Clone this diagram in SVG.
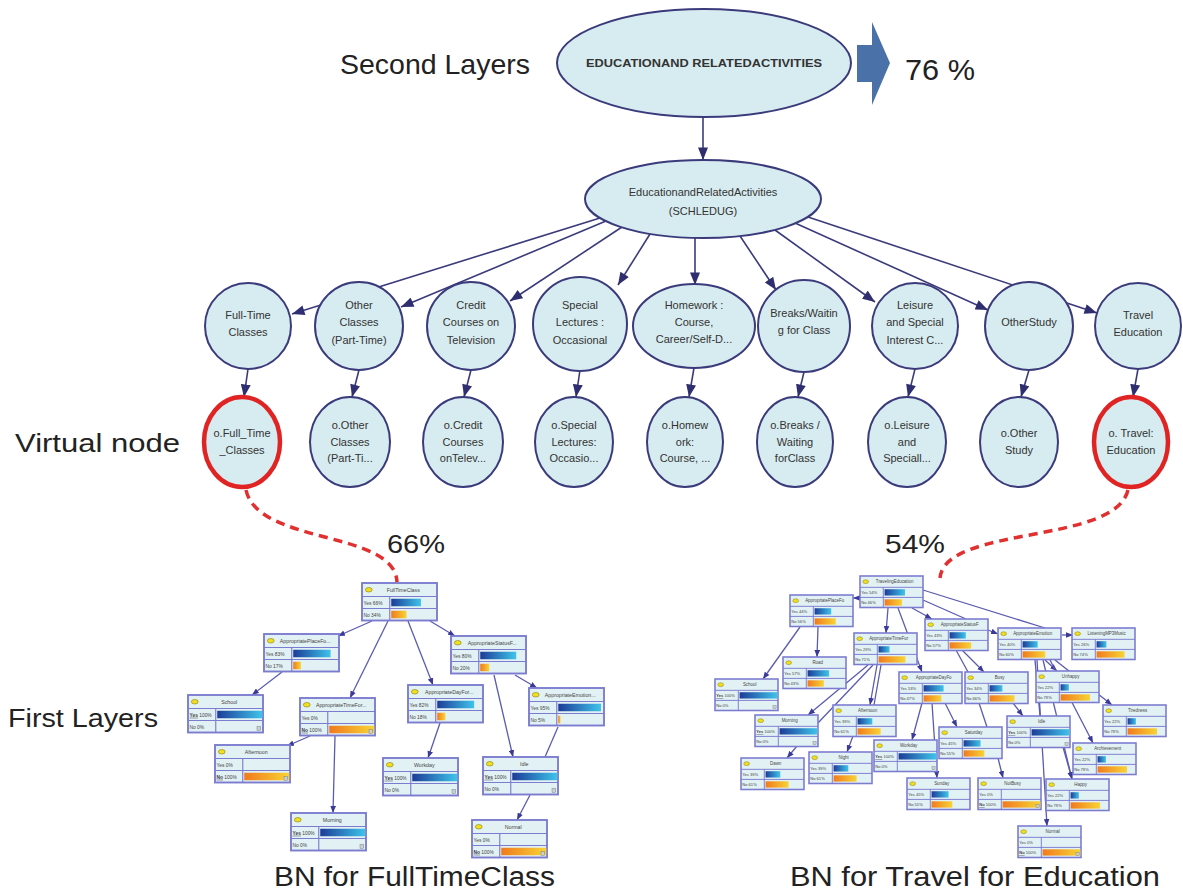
<svg xmlns="http://www.w3.org/2000/svg" width="1183" height="893" viewBox="0 0 1183 893">
<style>
.lbl{font-family:"Liberation Sans",Arial,sans-serif;fill:#222}
.nd{fill:#d7ecf0;stroke:#3b3b7c;stroke-width:2}
.vr{fill:#d7ecf0;stroke:#e02424;stroke-width:4.5}
.nt{font-family:"Liberation Sans",Arial,sans-serif;font-size:11px;fill:#333;text-anchor:middle}
.ce{stroke:#3b3b7c;stroke-width:1.6;fill:none;marker-end:url(#a)}
.be{stroke:#5b5bb0;stroke-width:1.3;fill:none}
.ba{marker-end:url(#s)}
.bx{fill:#e2f1f4;stroke:#7b7bd0;stroke-width:2.5}
.bl{stroke:#7b7bd0;stroke-width:1.5;fill:none}
.ic{fill:#f0e020;stroke:#8a7a10;stroke-width:.8}
.bt{font-family:"Liberation Sans",Arial,sans-serif;font-size:7px;fill:#444;text-anchor:middle}
.bs{font-family:"Liberation Sans",Arial,sans-serif;font-size:6.5px;fill:#444}
.yb{fill:url(#gy)}
.nb{fill:url(#gn)}
.ev{fill:#c8d0d8;stroke:#777;stroke-width:.6}
.rd{stroke:#e03030;stroke-width:3.5;stroke-dasharray:9 6;fill:none}
</style>
<defs>
<marker id="a" viewBox="0 0 10 8" refX="10" refY="4" markerWidth="13" markerHeight="10" orient="auto" markerUnits="userSpaceOnUse"><path d="M0 0L10 4L0 8z" fill="#2e2e70"/></marker>
<marker id="s" viewBox="0 0 10 8" refX="10" refY="4" markerWidth="7" markerHeight="6" orient="auto" markerUnits="userSpaceOnUse"><path d="M0 0L10 4L0 8z" fill="#3a3a98"/></marker>
<linearGradient id="gy" x1="0" y1="0" x2="1" y2="0"><stop offset="0" stop-color="#1c3c98"/><stop offset="1" stop-color="#3ec4ea"/></linearGradient>
<linearGradient id="gn" x1="0" y1="0" x2="1" y2="0"><stop offset="0" stop-color="#f07a1e"/><stop offset="1" stop-color="#f8d434"/></linearGradient>
</defs>
<rect width="1183" height="893" fill="#fff"/>

<!-- labels -->
<text class="lbl" x="340" y="74" font-size="28" textLength="190" lengthAdjust="spacingAndGlyphs">Second Layers</text>
<text class="lbl" x="905" y="80" font-size="30" textLength="70" lengthAdjust="spacingAndGlyphs">76 %</text>
<text class="lbl" x="15" y="452" font-size="26" textLength="165" lengthAdjust="spacingAndGlyphs">Virtual node</text>
<text class="lbl" x="8" y="727" font-size="26" textLength="150" lengthAdjust="spacingAndGlyphs">First Layers</text>
<text class="lbl" x="387" y="553" font-size="26" textLength="58" lengthAdjust="spacingAndGlyphs">66%</text>
<text class="lbl" x="885" y="553" font-size="26" textLength="60" lengthAdjust="spacingAndGlyphs">54%</text>
<text class="lbl" x="274" y="886" font-size="27" textLength="281" lengthAdjust="spacingAndGlyphs">BN for FullTimeClass</text>
<text class="lbl" x="790" y="886" font-size="27" textLength="370" lengthAdjust="spacingAndGlyphs">BN for Travel for Education</text>

<!-- block arrow -->
<path d="M857 45H872V22L890 63L872 105V82H857z" fill="#4a72a8"/>

<!-- main connectors -->
<g id="connectors">
<path class="ce" d="M703 117V160"/>
<path class="ce" d="M600 218L292 314"/>
<path class="ce" d="M606 221L401 307"/>
<path class="ce" d="M622 227L510 301"/>
<path class="ce" d="M650 234L618 285"/>
<path class="ce" d="M695 238L695 285"/>
<path class="ce" d="M740 236L776 290"/>
<path class="ce" d="M775 230L875 302"/>
<path class="ce" d="M795 223L988 310"/>
<path class="ce" d="M808 217L1097 313"/>
<path class="ce" d="M248 369L244 397"/>
<path class="ce" d="M359 370L352 397"/>
<path class="ce" d="M471 370L464 397"/>
<path class="ce" d="M580 370L576 397"/>
<path class="ce" d="M694 368L689 397"/>
<path class="ce" d="M804 372L798 397"/>
<path class="ce" d="M915 369L908 397"/>
<path class="ce" d="M1029 370L1021 397"/>
<path class="ce" d="M1138 369L1133 397"/>
<path class="rd" d="M246 490C258 545 395 530 397 582"/>
<path class="rd" d="M1128 490C1115 545 945 525 940 578"/>
</g>

<!-- top nodes -->
<g id="n-top"><ellipse class="nd" cx="704" cy="63" rx="147" ry="54"/><text class="nt" x="704" y="67" font-size="10" font-weight="bold" fill="#2a2a2a" textLength="236" lengthAdjust="spacingAndGlyphs">EDUCATIONAND RELATEDACTIVITIES</text></g>
<g id="n-edu"><ellipse class="nd" cx="703" cy="199" rx="118" ry="39"/><text class="nt" x="703" y="196">EducationandRelatedActivities</text><text class="nt" x="703" y="215">(SCHLEDUG)</text></g>

<g id="n1"><circle class="nd" cx="248" cy="326" r="43"/><text class="nt" x="248" y="319">Full-Time</text><text class="nt" x="248" y="336">Classes</text></g>
<g id="n2"><circle class="nd" cx="359" cy="326" r="44"/><text class="nt" x="359" y="309">Other</text><text class="nt" x="359" y="326">Classes</text><text class="nt" x="359" y="344">(Part-Time)</text></g>
<g id="n3"><circle class="nd" cx="471" cy="326" r="44"/><text class="nt" x="471" y="309">Credit</text><text class="nt" x="471" y="326">Courses on</text><text class="nt" x="471" y="344">Television</text></g>
<g id="n4"><circle class="nd" cx="580" cy="324" r="47"/><text class="nt" x="580" y="309">Special</text><text class="nt" x="580" y="326">Lectures :</text><text class="nt" x="580" y="344">Occasional</text></g>
<g id="n5"><ellipse class="nd" cx="694" cy="326" rx="61" ry="42"/><text class="nt" x="694" y="309">Homework :</text><text class="nt" x="694" y="326">Course,</text><text class="nt" x="694" y="343">Career/Self-D...</text></g>
<g id="n6"><circle class="nd" cx="804" cy="326" r="46"/><text class="nt" x="804" y="317">Breaks/Waitin</text><text class="nt" x="804" y="334">g for Class</text></g>
<g id="n7"><circle class="nd" cx="915" cy="326" r="43"/><text class="nt" x="915" y="309">Leisure</text><text class="nt" x="915" y="326">and Special</text><text class="nt" x="915" y="344">Interest C...</text></g>
<g id="n8"><circle class="nd" cx="1029" cy="326" r="44"/><text class="nt" x="1029" y="326">OtherStudy</text></g>
<g id="n9"><circle class="nd" cx="1138" cy="326" r="43"/><text class="nt" x="1138" y="319">Travel</text><text class="nt" x="1138" y="336">Education</text></g>

<g id="v1"><ellipse class="vr" cx="242" cy="442" rx="38" ry="45"/><text class="nt" x="242" y="437">o.Full_Time</text><text class="nt" x="242" y="454">_Classes</text></g>
<g id="v2"><ellipse class="nd" cx="350" cy="442" rx="40" ry="45"/><text class="nt" x="350" y="429">o.Other</text><text class="nt" x="350" y="446">Classes</text><text class="nt" x="350" y="462">(Part-Ti...</text></g>
<g id="v3"><ellipse class="nd" cx="463" cy="442" rx="40" ry="45"/><text class="nt" x="463" y="429">o.Credit</text><text class="nt" x="463" y="446">Courses</text><text class="nt" x="463" y="462">onTelev...</text></g>
<g id="v4"><ellipse class="nd" cx="574" cy="442" rx="39" ry="45"/><text class="nt" x="574" y="429">o.Special</text><text class="nt" x="574" y="446">Lectures:</text><text class="nt" x="574" y="462">Occasio...</text></g>
<g id="v5"><ellipse class="nd" cx="685" cy="442" rx="38" ry="45"/><text class="nt" x="685" y="429">o.Homew</text><text class="nt" x="685" y="446">ork:</text><text class="nt" x="685" y="462">Course, ...</text></g>
<g id="v6"><ellipse class="nd" cx="795" cy="442" rx="38" ry="45"/><text class="nt" x="795" y="429">o.Breaks /</text><text class="nt" x="795" y="446">Waiting</text><text class="nt" x="795" y="462">forClass</text></g>
<g id="v7"><ellipse class="nd" cx="907" cy="442" rx="39" ry="45"/><text class="nt" x="907" y="429">o.Leisure</text><text class="nt" x="907" y="446">and</text><text class="nt" x="907" y="462">Speciall...</text></g>
<g id="v8"><ellipse class="nd" cx="1019" cy="442" rx="39" ry="45"/><text class="nt" x="1019" y="437">o.Other</text><text class="nt" x="1019" y="454">Study</text></g>
<g id="v9"><ellipse class="vr" cx="1131" cy="442" rx="37" ry="45"/><text class="nt" x="1131" y="437">o. Travel:</text><text class="nt" x="1131" y="454">Education</text></g>

<!-- BN edges -->
<g id="bn-edges">
<path class="be ba" d="M372 621L338 636"/>
<path class="be ba" d="M388 621L350 698"/>
<path class="be ba" d="M408 621L433 685"/>
<path class="be ba" d="M430 621L455 636"/>
<path class="be ba" d="M282 672L252 695"/>
<path class="be ba" d="M310 736L287 746"/>
<path class="be ba" d="M335 736L333 813"/>
<path class="be ba" d="M440 723L428 758"/>
<path class="be ba" d="M494 675L513 757"/>
<path class="be ba" d="M515 675L537 688"/>
<path class="be" d="M558 727L545 757"/>
<path class="be ba" d="M530 795L517 820"/>

<path class="be ba" d="M861 598L853 598"/>
<path class="be ba" d="M888 608L886 633"/>
<path class="be ba" d="M898 608L922 672"/>
<path class="be ba" d="M912 608L932 619"/>
<path class="be" d="M923 600L966 619"/>
<path class="be" d="M923 590L1045 628"/>
<path class="be ba" d="M988 630L998 634"/>
<path class="be ba" d="M1062 635L1073 635"/>
<path class="be ba" d="M818 627L817 657"/>
<path class="be ba" d="M800 627L763 679"/>
<path class="be ba" d="M868 665L808 715"/>
<path class="be" d="M873 665L817 724"/>
<path class="be ba" d="M877 665L870 705"/>
<path class="be" d="M881 665L874 705"/>
<path class="be ba" d="M797 746L787 758"/>
<path class="be ba" d="M853 736L847 752"/>
<path class="be ba" d="M922 703L912 740"/>
<path class="be ba" d="M932 703L937 778"/>
<path class="be ba" d="M945 703L957 727"/>
<path class="be" d="M979 703L987 727"/>
<path class="be ba" d="M1013 703L1023 716"/>
<path class="be ba" d="M962 650L984 672"/>
<path class="be" d="M956 650L968 672"/>
<path class="be ba" d="M1045 660L1057 671"/>
<path class="be" d="M1035 660L1040 716"/>
<path class="be ba" d="M1037 660L1047 826"/>
<path class="be ba" d="M1050 660L1093 743"/>
<path class="be ba" d="M1043 660L1072 779"/>
<path class="be ba" d="M1055 660L1112 705"/>
<path class="be ba" d="M1063 747L1072 779"/>
<path class="be ba" d="M998 758L1003 778"/>
</g>

<!-- left BN -->
<g id="l-ftc" transform="translate(362,583) scale(.75)"><rect class="bx" width="100" height="50"/><path class="bl" d="M0 18H100M0 34H100M37 18V50"/><ellipse class="ic" cx="9" cy="9" rx="4.5" ry="3"/><text class="bt" x="55" y="11.5">FullTimeClass</text><text class="bs" x="2" y="29">Yes 66%</text><text class="bs" x="2" y="45">No  34%</text><rect class="yb" x="39" y="21" width="39.6" height="10"/><rect class="nb" x="39" y="37" width="20.4" height="10"/></g>
<g id="l-apf" transform="translate(264,634) scale(.75)"><rect class="bx" width="100" height="50"/><path class="bl" d="M0 18H100M0 34H100M37 18V50"/><ellipse class="ic" cx="9" cy="9" rx="4.5" ry="3"/><text class="bt" x="55" y="11.5">AppropriatePlaceFo...</text><text class="bs" x="2" y="29">Yes 83%</text><text class="bs" x="2" y="45">No  17%</text><rect class="yb" x="39" y="21" width="49.8" height="10"/><rect class="nb" x="39" y="37" width="10.2" height="10"/></g>
<g id="l-sch" transform="translate(188,695) scale(.75)"><rect class="bx" width="100" height="50"/><path class="bl" d="M0 18H100M0 34H100M37 18V50"/><ellipse class="ic" cx="9" cy="9" rx="4.5" ry="3"/><text class="bt" x="55" y="11.5">School</text><text class="bs" x="2" y="29"><tspan font-weight="bold" text-decoration="underline">Yes</tspan> 100%</text><text class="bs" x="2" y="45">No     0%</text><rect class="yb" x="39" y="21" width="60" height="10"/><rect class="ev" x="92" y="42" width="5" height="5"/></g>
<g id="l-atf" transform="translate(300,698) scale(.75)"><rect class="bx" width="100" height="50"/><path class="bl" d="M0 18H100M0 34H100M37 18V50"/><ellipse class="ic" cx="9" cy="9" rx="4.5" ry="3"/><text class="bt" x="55" y="11.5">AppropriateTimeFor...</text><text class="bs" x="2" y="29">Yes    0%</text><text class="bs" x="2" y="45"><tspan font-weight="bold" text-decoration="underline">No</tspan>  100%</text><rect class="nb" x="39" y="37" width="60" height="10"/><rect class="ev" x="92" y="42" width="5" height="5"/></g>
<g id="l-asf" transform="translate(451,636) scale(.75)"><rect class="bx" width="100" height="50"/><path class="bl" d="M0 18H100M0 34H100M37 18V50"/><ellipse class="ic" cx="9" cy="9" rx="4.5" ry="3"/><text class="bt" x="55" y="11.5">AppropriateStatusF...</text><text class="bs" x="2" y="29">Yes 80%</text><text class="bs" x="2" y="45">No  20%</text><rect class="yb" x="39" y="21" width="48" height="10"/><rect class="nb" x="39" y="37" width="12" height="10"/></g>
<g id="l-adf" transform="translate(408,685) scale(.75)"><rect class="bx" width="100" height="50"/><path class="bl" d="M0 18H100M0 34H100M37 18V50"/><ellipse class="ic" cx="9" cy="9" rx="4.5" ry="3"/><text class="bt" x="55" y="11.5">AppropriateDayFor...</text><text class="bs" x="2" y="29">Yes 82%</text><text class="bs" x="2" y="45">No  18%</text><rect class="yb" x="39" y="21" width="49.2" height="10"/><rect class="nb" x="39" y="37" width="10.8" height="10"/></g>
<g id="l-aem" transform="translate(529,688) scale(.75)"><rect class="bx" width="100" height="50"/><path class="bl" d="M0 18H100M0 34H100M37 18V50"/><ellipse class="ic" cx="9" cy="9" rx="4.5" ry="3"/><text class="bt" x="55" y="11.5">AppropriateEmotion...</text><text class="bs" x="2" y="29">Yes 95%</text><text class="bs" x="2" y="45">No    5%</text><rect class="yb" x="39" y="21" width="57" height="10"/><rect class="nb" x="39" y="37" width="3" height="10"/></g>
<g id="l-aft" transform="translate(215,745) scale(.75)"><rect class="bx" width="100" height="50"/><path class="bl" d="M0 18H100M0 34H100M37 18V50"/><ellipse class="ic" cx="9" cy="9" rx="4.5" ry="3"/><text class="bt" x="55" y="11.5">Afternoon</text><text class="bs" x="2" y="29">Yes    0%</text><text class="bs" x="2" y="45"><tspan font-weight="bold" text-decoration="underline">No</tspan>  100%</text><rect class="nb" x="39" y="37" width="60" height="10"/><rect class="ev" x="92" y="42" width="5" height="5"/></g>
<g id="l-wd" transform="translate(383,758) scale(.75)"><rect class="bx" width="100" height="50"/><path class="bl" d="M0 18H100M0 34H100M37 18V50"/><ellipse class="ic" cx="9" cy="9" rx="4.5" ry="3"/><text class="bt" x="55" y="11.5">Workday</text><text class="bs" x="2" y="29"><tspan font-weight="bold" text-decoration="underline">Yes</tspan> 100%</text><text class="bs" x="2" y="45">No     0%</text><rect class="yb" x="39" y="21" width="60" height="10"/><rect class="ev" x="92" y="42" width="5" height="5"/></g>
<g id="l-idle" transform="translate(483,757) scale(.75)"><rect class="bx" width="100" height="50"/><path class="bl" d="M0 18H100M0 34H100M37 18V50"/><ellipse class="ic" cx="9" cy="9" rx="4.5" ry="3"/><text class="bt" x="55" y="11.5">Idle</text><text class="bs" x="2" y="29"><tspan font-weight="bold" text-decoration="underline">Yes</tspan> 100%</text><text class="bs" x="2" y="45">No     0%</text><rect class="yb" x="39" y="21" width="60" height="10"/><rect class="ev" x="92" y="42" width="5" height="5"/></g>
<g id="l-mor" transform="translate(291,813) scale(.75)"><rect class="bx" width="100" height="50"/><path class="bl" d="M0 18H100M0 34H100M37 18V50"/><ellipse class="ic" cx="9" cy="9" rx="4.5" ry="3"/><text class="bt" x="55" y="11.5">Morning</text><text class="bs" x="2" y="29"><tspan font-weight="bold" text-decoration="underline">Yes</tspan> 100%</text><text class="bs" x="2" y="45">No     0%</text><rect class="yb" x="39" y="21" width="60" height="10"/><rect class="ev" x="92" y="42" width="5" height="5"/></g>
<g id="l-nor" transform="translate(472,820) scale(.75)"><rect class="bx" width="100" height="50"/><path class="bl" d="M0 18H100M0 34H100M37 18V50"/><ellipse class="ic" cx="9" cy="9" rx="4.5" ry="3"/><text class="bt" x="55" y="11.5">Normal</text><text class="bs" x="2" y="29">Yes    0%</text><text class="bs" x="2" y="45"><tspan font-weight="bold" text-decoration="underline">No</tspan>  100%</text><rect class="nb" x="39" y="37" width="60" height="10"/><rect class="ev" x="92" y="42" width="5" height="5"/></g>

<!-- right BN -->
<g id="r-te" transform="translate(860,576) scale(.63)"><rect class="bx" width="100" height="50"/><path class="bl" d="M0 18H100M0 34H100M37 18V50"/><ellipse class="ic" cx="9" cy="9" rx="4.5" ry="3"/><text class="bt" x="55" y="11.5">TravelingEducation</text><text class="bs" x="2" y="29">Yes 54%</text><text class="bs" x="2" y="45">No  46%</text><rect class="yb" x="39" y="21" width="32.4" height="10"/><rect class="nb" x="39" y="37" width="27.6" height="10"/></g>
<g id="r-apf" transform="translate(790,595) scale(.63)"><rect class="bx" width="100" height="50"/><path class="bl" d="M0 18H100M0 34H100M37 18V50"/><ellipse class="ic" cx="9" cy="9" rx="4.5" ry="3"/><text class="bt" x="55" y="11.5">AppropriatePlaceFo</text><text class="bs" x="2" y="29">Yes 44%</text><text class="bs" x="2" y="45">No  56%</text><rect class="yb" x="39" y="21" width="26.4" height="10"/><rect class="nb" x="39" y="37" width="33.6" height="10"/></g>
<g id="r-atf" transform="translate(854,633) scale(.63)"><rect class="bx" width="100" height="50"/><path class="bl" d="M0 18H100M0 34H100M37 18V50"/><ellipse class="ic" cx="9" cy="9" rx="4.5" ry="3"/><text class="bt" x="55" y="11.5">AppropriateTimeFor</text><text class="bs" x="2" y="29">Yes 29%</text><text class="bs" x="2" y="45">No  71%</text><rect class="yb" x="39" y="21" width="17.4" height="10"/><rect class="nb" x="39" y="37" width="42.6" height="10"/></g>
<g id="r-road" transform="translate(783,657) scale(.63)"><rect class="bx" width="100" height="50"/><path class="bl" d="M0 18H100M0 34H100M37 18V50"/><ellipse class="ic" cx="9" cy="9" rx="4.5" ry="3"/><text class="bt" x="55" y="11.5">Road</text><text class="bs" x="2" y="29">Yes 57%</text><text class="bs" x="2" y="45">No  43%</text><rect class="yb" x="39" y="21" width="34.2" height="10"/><rect class="nb" x="39" y="37" width="25.8" height="10"/></g>
<g id="r-sch" transform="translate(715,679) scale(.63)"><rect class="bx" width="100" height="50"/><path class="bl" d="M0 18H100M0 34H100M37 18V50"/><ellipse class="ic" cx="9" cy="9" rx="4.5" ry="3"/><text class="bt" x="55" y="11.5">School</text><text class="bs" x="2" y="29"><tspan font-weight="bold" text-decoration="underline">Yes</tspan> 100%</text><text class="bs" x="2" y="45">No     0%</text><rect class="yb" x="39" y="21" width="60" height="10"/><rect class="ev" x="92" y="42" width="5" height="5"/></g>
<g id="r-asf" transform="translate(925,619) scale(.63)"><rect class="bx" width="100" height="50"/><path class="bl" d="M0 18H100M0 34H100M37 18V50"/><ellipse class="ic" cx="9" cy="9" rx="4.5" ry="3"/><text class="bt" x="55" y="11.5">AppropriateStatusF</text><text class="bs" x="2" y="29">Yes 43%</text><text class="bs" x="2" y="45">No  57%</text><rect class="yb" x="39" y="21" width="25.8" height="10"/><rect class="nb" x="39" y="37" width="34.2" height="10"/></g>
<g id="r-adf" transform="translate(899,672) scale(.63)"><rect class="bx" width="100" height="50"/><path class="bl" d="M0 18H100M0 34H100M37 18V50"/><ellipse class="ic" cx="9" cy="9" rx="4.5" ry="3"/><text class="bt" x="55" y="11.5">AppropriateDayFo</text><text class="bs" x="2" y="29">Yes 53%</text><text class="bs" x="2" y="45">No  47%</text><rect class="yb" x="39" y="21" width="31.8" height="10"/><rect class="nb" x="39" y="37" width="28.2" height="10"/></g>
<g id="r-aem" transform="translate(998,628) scale(.63)"><rect class="bx" width="100" height="50"/><path class="bl" d="M0 18H100M0 34H100M37 18V50"/><ellipse class="ic" cx="9" cy="9" rx="4.5" ry="3"/><text class="bt" x="55" y="11.5">AppropriateEmotion</text><text class="bs" x="2" y="29">Yes 40%</text><text class="bs" x="2" y="45">No  60%</text><rect class="yb" x="39" y="21" width="24" height="10"/><rect class="nb" x="39" y="37" width="36" height="10"/></g>
<g id="r-lis" transform="translate(1072,628) scale(.63)"><rect class="bx" width="100" height="50"/><path class="bl" d="M0 18H100M0 34H100M37 18V50"/><ellipse class="ic" cx="9" cy="9" rx="4.5" ry="3"/><text class="bt" x="55" y="11.5">ListeningMP3Music</text><text class="bs" x="2" y="29">Yes 26%</text><text class="bs" x="2" y="45">No  74%</text><rect class="yb" x="39" y="21" width="15.6" height="10"/><rect class="nb" x="39" y="37" width="44.4" height="10"/></g>
<g id="r-busy" transform="translate(965,672) scale(.63)"><rect class="bx" width="100" height="50"/><path class="bl" d="M0 18H100M0 34H100M37 18V50"/><ellipse class="ic" cx="9" cy="9" rx="4.5" ry="3"/><text class="bt" x="55" y="11.5">Busy</text><text class="bs" x="2" y="29">Yes 34%</text><text class="bs" x="2" y="45">No  66%</text><rect class="yb" x="39" y="21" width="20.4" height="10"/><rect class="nb" x="39" y="37" width="39.6" height="10"/></g>
<g id="r-unh" transform="translate(1036,671) scale(.63)"><rect class="bx" width="100" height="50"/><path class="bl" d="M0 18H100M0 34H100M37 18V50"/><ellipse class="ic" cx="9" cy="9" rx="4.5" ry="3"/><text class="bt" x="55" y="11.5">Unhappy</text><text class="bs" x="2" y="29">Yes 22%</text><text class="bs" x="2" y="45">No  78%</text><rect class="yb" x="39" y="21" width="13.2" height="10"/><rect class="nb" x="39" y="37" width="46.8" height="10"/></g>
<g id="r-mor" transform="translate(755,715) scale(.63)"><rect class="bx" width="100" height="50"/><path class="bl" d="M0 18H100M0 34H100M37 18V50"/><ellipse class="ic" cx="9" cy="9" rx="4.5" ry="3"/><text class="bt" x="55" y="11.5">Morning</text><text class="bs" x="2" y="29"><tspan font-weight="bold" text-decoration="underline">Yes</tspan> 100%</text><text class="bs" x="2" y="45">No     0%</text><rect class="yb" x="39" y="21" width="60" height="10"/><rect class="ev" x="92" y="42" width="5" height="5"/></g>
<g id="r-aft" transform="translate(833,705) scale(.63)"><rect class="bx" width="100" height="50"/><path class="bl" d="M0 18H100M0 34H100M37 18V50"/><ellipse class="ic" cx="9" cy="9" rx="4.5" ry="3"/><text class="bt" x="55" y="11.5">Afternoon</text><text class="bs" x="2" y="29">Yes 39%</text><text class="bs" x="2" y="45">No  61%</text><rect class="yb" x="39" y="21" width="23.4" height="10"/><rect class="nb" x="39" y="37" width="36.6" height="10"/></g>
<g id="r-dawn" transform="translate(741,758) scale(.63)"><rect class="bx" width="100" height="50"/><path class="bl" d="M0 18H100M0 34H100M37 18V50"/><ellipse class="ic" cx="9" cy="9" rx="4.5" ry="3"/><text class="bt" x="55" y="11.5">Dawn</text><text class="bs" x="2" y="29">Yes 39%</text><text class="bs" x="2" y="45">No  61%</text><rect class="yb" x="39" y="21" width="23.4" height="10"/><rect class="nb" x="39" y="37" width="36.6" height="10"/></g>
<g id="r-night" transform="translate(809,752) scale(.63)"><rect class="bx" width="100" height="50"/><path class="bl" d="M0 18H100M0 34H100M37 18V50"/><ellipse class="ic" cx="9" cy="9" rx="4.5" ry="3"/><text class="bt" x="55" y="11.5">Night</text><text class="bs" x="2" y="29">Yes 39%</text><text class="bs" x="2" y="45">No  61%</text><rect class="yb" x="39" y="21" width="23.4" height="10"/><rect class="nb" x="39" y="37" width="36.6" height="10"/></g>
<g id="r-wd" transform="translate(874,740) scale(.63)"><rect class="bx" width="100" height="50"/><path class="bl" d="M0 18H100M0 34H100M37 18V50"/><ellipse class="ic" cx="9" cy="9" rx="4.5" ry="3"/><text class="bt" x="55" y="11.5">Workday</text><text class="bs" x="2" y="29"><tspan font-weight="bold" text-decoration="underline">Yes</tspan> 100%</text><text class="bs" x="2" y="45">No     0%</text><rect class="yb" x="39" y="21" width="60" height="10"/><rect class="ev" x="92" y="42" width="5" height="5"/></g>
<g id="r-sun" transform="translate(907,778) scale(.63)"><rect class="bx" width="100" height="50"/><path class="bl" d="M0 18H100M0 34H100M37 18V50"/><ellipse class="ic" cx="9" cy="9" rx="4.5" ry="3"/><text class="bt" x="55" y="11.5">Sunday</text><text class="bs" x="2" y="29">Yes 45%</text><text class="bs" x="2" y="45">No  55%</text><rect class="yb" x="39" y="21" width="27" height="10"/><rect class="nb" x="39" y="37" width="33" height="10"/></g>
<g id="r-sat" transform="translate(939,727) scale(.63)"><rect class="bx" width="100" height="50"/><path class="bl" d="M0 18H100M0 34H100M37 18V50"/><ellipse class="ic" cx="9" cy="9" rx="4.5" ry="3"/><text class="bt" x="55" y="11.5">Saturday</text><text class="bs" x="2" y="29">Yes 45%</text><text class="bs" x="2" y="45">No  55%</text><rect class="yb" x="39" y="21" width="27" height="10"/><rect class="nb" x="39" y="37" width="33" height="10"/></g>
<g id="r-idle" transform="translate(1007,716) scale(.63)"><rect class="bx" width="100" height="50"/><path class="bl" d="M0 18H100M0 34H100M37 18V50"/><ellipse class="ic" cx="9" cy="9" rx="4.5" ry="3"/><text class="bt" x="55" y="11.5">Idle</text><text class="bs" x="2" y="29"><tspan font-weight="bold" text-decoration="underline">Yes</tspan> 100%</text><text class="bs" x="2" y="45">No     0%</text><rect class="yb" x="39" y="21" width="60" height="10"/><rect class="ev" x="92" y="42" width="5" height="5"/></g>
<g id="r-tir" transform="translate(1103,705) scale(.63)"><rect class="bx" width="100" height="50"/><path class="bl" d="M0 18H100M0 34H100M37 18V50"/><ellipse class="ic" cx="9" cy="9" rx="4.5" ry="3"/><text class="bt" x="55" y="11.5">Tiredness</text><text class="bs" x="2" y="29">Yes 22%</text><text class="bs" x="2" y="45">No  78%</text><rect class="yb" x="39" y="21" width="13.2" height="10"/><rect class="nb" x="39" y="37" width="46.8" height="10"/></g>
<g id="r-ach" transform="translate(1073,743) scale(.63)"><rect class="bx" width="100" height="50"/><path class="bl" d="M0 18H100M0 34H100M37 18V50"/><ellipse class="ic" cx="9" cy="9" rx="4.5" ry="3"/><text class="bt" x="55" y="11.5">Archievement</text><text class="bs" x="2" y="29">Yes 22%</text><text class="bs" x="2" y="45">No  78%</text><rect class="yb" x="39" y="21" width="13.2" height="10"/><rect class="nb" x="39" y="37" width="46.8" height="10"/></g>
<g id="r-nb" transform="translate(978,778) scale(.63)"><rect class="bx" width="100" height="50"/><path class="bl" d="M0 18H100M0 34H100M37 18V50"/><ellipse class="ic" cx="9" cy="9" rx="4.5" ry="3"/><text class="bt" x="55" y="11.5">NotBusy</text><text class="bs" x="2" y="29">Yes    0%</text><text class="bs" x="2" y="45"><tspan font-weight="bold" text-decoration="underline">No</tspan>  100%</text><rect class="nb" x="39" y="37" width="60" height="10"/><rect class="ev" x="92" y="42" width="5" height="5"/></g>
<g id="r-hap" transform="translate(1046,779) scale(.63)"><rect class="bx" width="100" height="50"/><path class="bl" d="M0 18H100M0 34H100M37 18V50"/><ellipse class="ic" cx="9" cy="9" rx="4.5" ry="3"/><text class="bt" x="55" y="11.5">Happy</text><text class="bs" x="2" y="29">Yes 22%</text><text class="bs" x="2" y="45">No  78%</text><rect class="yb" x="39" y="21" width="13.2" height="10"/><rect class="nb" x="39" y="37" width="46.8" height="10"/></g>
<g id="r-nor" transform="translate(1018,826) scale(.63)"><rect class="bx" width="100" height="50"/><path class="bl" d="M0 18H100M0 34H100M37 18V50"/><ellipse class="ic" cx="9" cy="9" rx="4.5" ry="3"/><text class="bt" x="55" y="11.5">Normal</text><text class="bs" x="2" y="29">Yes    0%</text><text class="bs" x="2" y="45"><tspan font-weight="bold" text-decoration="underline">No</tspan>  100%</text><rect class="nb" x="39" y="37" width="60" height="10"/><rect class="ev" x="92" y="42" width="5" height="5"/></g>
</svg>
